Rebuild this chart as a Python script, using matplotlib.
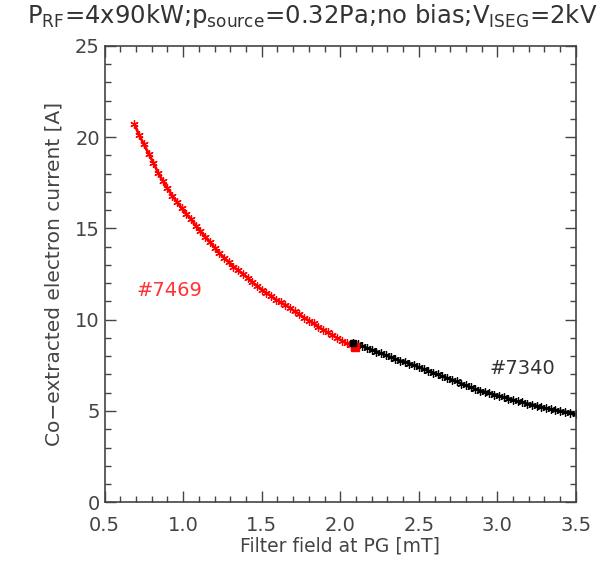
import matplotlib
matplotlib.use("Agg")
import matplotlib.pyplot as plt
from matplotlib.ticker import MultipleLocator

red_x = [0.69, 0.72, 0.75, 0.78, 0.81, 0.84, 0.87, 0.90, 0.93, 0.96, 0.99, 1.02, 1.05, 1.08,
         1.11, 1.14, 1.17, 1.20, 1.23, 1.26, 1.29, 1.32, 1.35, 1.38, 1.41, 1.44, 1.47, 1.50,
         1.53, 1.56, 1.59, 1.62, 1.65, 1.68, 1.71, 1.74, 1.77, 1.80, 1.83, 1.86, 1.89, 1.92,
         1.95, 1.98, 2.01, 2.04, 2.07, 2.095]
red_y = [20.7, 20.1, 19.6, 19.1, 18.6, 18.05, 17.6, 17.2, 16.8, 16.45, 16.1, 15.8, 15.5, 15.15,
         14.85, 14.55, 14.25, 13.95, 13.65, 13.4, 13.15, 12.9, 12.7, 12.5, 12.3, 12.05, 11.85, 11.65,
         11.45, 11.3, 11.1, 10.95, 10.8, 10.65, 10.45, 10.3, 10.1, 9.95, 9.8, 9.6, 9.45, 9.3,
         9.15, 9.0, 8.85, 8.7, 8.6, 8.5]

black_x = [2.08, 2.11, 2.14, 2.17, 2.20, 2.23, 2.26, 2.29, 2.32, 2.35, 2.38, 2.41, 2.44, 2.47,
           2.50, 2.53, 2.56, 2.59, 2.62, 2.65, 2.68, 2.71, 2.74, 2.77, 2.80, 2.83, 2.86, 2.89,
           2.92, 2.95, 2.98, 3.01, 3.04, 3.07, 3.10, 3.13, 3.16, 3.19, 3.22, 3.25, 3.28, 3.31,
           3.34, 3.37, 3.40, 3.43, 3.46, 3.50]
black_y = [8.75, 8.65, 8.55, 8.45, 8.35, 8.25, 8.15, 8.05, 7.95, 7.85, 7.75, 7.7, 7.6, 7.5,
           7.4, 7.3, 7.2, 7.1, 7.0, 6.9, 6.8, 6.72, 6.62, 6.5, 6.4, 6.3, 6.2, 6.12,
           6.05, 5.97, 5.9, 5.82, 5.75, 5.68, 5.6, 5.53, 5.47, 5.4, 5.35, 5.28, 5.22, 5.15,
           5.1, 5.05, 5.0, 4.95, 4.9, 4.83]

red_label = "#7469"
black_label = "#7340"

gray = "#444444"
fig = plt.figure(figsize=(6.12, 5.65), dpi=100)
ax = fig.add_axes([0.171, 0.111, 0.770, 0.808])

ax.plot(red_x, red_y, color="red", lw=2.0, marker=(6, 2, 0), ms=6, mew=0.9)
ax.plot(black_x, black_y, color="black", lw=2.0, marker=(6, 2, 0), ms=6, mew=0.9)
ax.plot([red_x[-1]], [red_y[-1]], color="red", marker="s", ms=6)
ax.plot([black_x[0]], [black_y[0]], color="black", marker="s", ms=5)

ax.text(0.70, 11.6, red_label, color="#ff3333", fontsize=14, va="center", ha="left")
ax.text(2.95, 7.3, black_label, color="#333333", fontsize=14, va="center", ha="left")

ax.set_xlim(0.5, 3.5)
ax.set_ylim(0, 25)
ax.xaxis.set_major_locator(MultipleLocator(0.5))
ax.xaxis.set_minor_locator(MultipleLocator(0.1))
ax.yaxis.set_major_locator(MultipleLocator(5))
ax.yaxis.set_minor_locator(MultipleLocator(1))
ax.xaxis.set_major_formatter(matplotlib.ticker.FormatStrFormatter("%.1f"))
ax.tick_params(which="both", direction="in", top=True, right=True, colors=gray,
               labelsize=14, labelcolor=gray)
ax.tick_params(which="major", length=8, width=1)
ax.tick_params(which="minor", length=4, width=1)
ax.tick_params(axis="x", pad=10)
for s in ax.spines.values():
    s.set_color(gray)
    s.set_linewidth(1.2)

ax.set_xlabel("Filter field at PG [mT]", fontsize=13.5, color=gray, labelpad=1)
ax.set_ylabel("Co\u2212extracted electron current [A]", fontsize=14.5, color=gray, labelpad=8)
fig.text(0.51, 0.972, r"P$_{\rm RF}$=4x90kW;p$_{\rm source}$=0.32Pa;no bias;V$_{\rm ISEG}$=2kV",
         fontsize=17.5, color="#333333", ha="center", va="center")

fig.savefig("out.png", dpi=100)
